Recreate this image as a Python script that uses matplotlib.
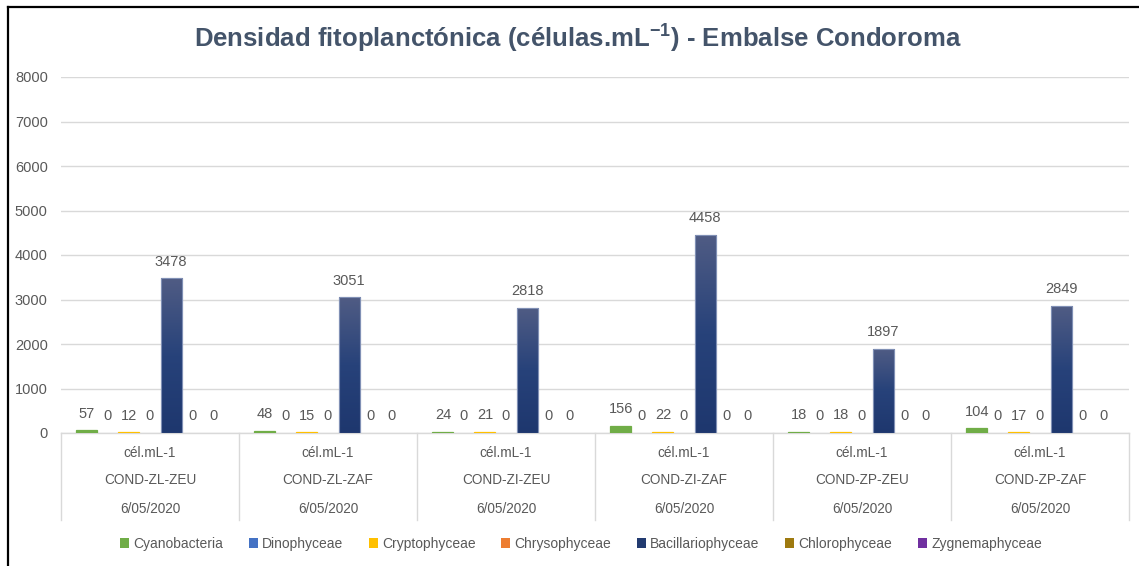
import matplotlib
matplotlib.use("Agg")
import matplotlib.pyplot as plt
import numpy as np
from matplotlib.lines import Line2D
from matplotlib.colors import LinearSegmentedColormap
import matplotlib.transforms as mtransforms

# ---------------- data ----------------
units = ["cél.mL-1"] * 6
stations = ["COND-ZL-ZEU", "COND-ZL-ZAF", "COND-ZI-ZEU", "COND-ZI-ZAF", "COND-ZP-ZEU", "COND-ZP-ZAF"]
dates = ["6/05/2020"] * 6
series_names = ["Cyanobacteria", "Dinophyceae", "Cryptophyceae", "Chrysophyceae",
                "Bacillariophyceae", "Chlorophyceae", "Zygnemaphyceae"]
cyanobacteria = [57, 48, 24, 156, 18, 104]
dinophyceae = [0, 0, 0, 0, 0, 0]
cryptophyceae = [12, 15, 21, 22, 18, 17]
chrysophyceae = [0, 0, 0, 0, 0, 0]
bacillariophyceae = [3478, 3051, 2818, 4458, 1897, 2849]
chlorophyceae = [0, 0, 0, 0, 0, 0]
zygnemaphyceae = [0, 0, 0, 0, 0, 0]
yticks = [0, 1000, 2000, 3000, 4000, 5000, 6000, 7000, 8000]
title = "Densidad fitoplanctónica (células.mL$^{-1}$) - Embalse Condoroma"

series_values = [cyanobacteria, dinophyceae, cryptophyceae, chrysophyceae,
                 bacillariophyceae, chlorophyceae, zygnemaphyceae]
colors = ["#70AD47", "#4472C4", "#FFC000", "#ED7D31", "#223B70", "#9E7A10", "#7030A0"]

plt.rcParams["mathtext.default"] = "regular"

NARROW = ["Liberation Sans Narrow", "Liberation Sans", "DejaVu Sans"]
REG = ["Liberation Sans", "DejaVu Sans"]
GRAY = "#595959"
GRID = "#D9D9D9"

W, H = 1139, 566
fig = plt.figure(figsize=(W / 100, H / 100), dpi=100)
fig.patch.set_facecolor("white")

left, right, bottom_px, top_px = 61, 1129, 433, 77
ax = fig.add_axes([left / W, (H - bottom_px) / H, (right - left) / W, (bottom_px - top_px) / H])
ax.set_facecolor("white")

n_groups = len(stations)
n_series = len(series_names)
x = np.arange(n_groups)
group_w = 0.826
bw = group_w / n_series

grad_cmap = LinearSegmentedColormap.from_list("g", ["#1E376E", "#27427A", "#505C84"])

for j, (name, vals, col) in enumerate(zip(series_names, series_values, colors)):
    pos = x + (j - (n_series - 1) / 2) * bw
    vals = np.array(vals, dtype=float)
    if name == "Bacillariophyceae":
        bars = ax.bar(pos, vals, width=bw, color=col, edgecolor="#8090B5",
                      linewidth=0.8, zorder=3, label=name)
        for b in bars:
            bx, by = b.get_x(), b.get_y()
            bwid, bh = b.get_width(), b.get_height()
            grad = np.linspace(0, 1, 256).reshape(-1, 1)
            im = ax.imshow(grad, cmap=grad_cmap, aspect="auto", origin="lower",
                           extent=[bx, bx + bwid, by, by + bh], zorder=3.5,
                           interpolation="bicubic")
            im.set_clip_path(b)
        ax.bar(pos, vals, width=bw, facecolor="none", edgecolor="#8090B5",
               linewidth=0.8, zorder=4)
    else:
        lws = [0.9 if v > 0 else 0 for v in vals]
        ax.bar(pos, vals, width=bw, color=col, edgecolor=col, linewidth=lws,
               zorder=3, label=name)
    for p, v in zip(pos, vals):
        ax.annotate(f"{int(v)}", (p, v), xytext=(0, 7), textcoords="offset points",
                    ha="center", va="bottom", fontsize=10.5, color=GRAY,
                    family=NARROW, zorder=5)

ax.set_xlim(-0.5, n_groups - 0.5)
ax.set_ylim(0, 8000)

ax.set_yticks(yticks)
ax.yaxis.grid(True, color=GRID, linewidth=1.0, zorder=0)
ax.set_axisbelow(True)
for s in ["left", "right", "top"]:
    ax.spines[s].set_visible(False)
ax.spines["bottom"].set_color(GRID)
ax.spines["bottom"].set_linewidth(1.0)
ax.tick_params(axis="y", length=0, pad=9.5, labelcolor=GRAY, labelsize=10.5)
for lab in ax.get_yticklabels():
    lab.set_family(NARROW)
ax.set_xticks([])

# multi-level category axis
trans = mtransforms.blended_transform_factory(ax.transData, ax.transAxes)
axis_h = bottom_px - top_px
sep_bottom = -(520 - bottom_px) / axis_h
for b in np.arange(-0.5, n_groups, 1.0):
    ax.add_line(Line2D([b, b], [0, sep_bottom], transform=trans, color=GRID,
                       linewidth=1.0, clip_on=False))
rows = [(units, 453), (stations, 480), (dates, 509)]
for labels, ypx in rows:
    yy = -(ypx - bottom_px) / axis_h
    for xi, lab in zip(x, labels):
        ax.text(xi, yy, lab, transform=trans, ha="center", va="center",
                fontsize=9.8, color=GRAY, family=NARROW, clip_on=False)

# title
fig.text(578 / W, 1 - 39 / H, title, ha="center", va="center", fontsize=18.5,
         fontweight="bold", color="#44546A", family=NARROW)

# legend
handles = [plt.Rectangle((0, 0), 1, 1, facecolor=c, edgecolor="none") for c in colors]
leg = fig.legend(handles, series_names, loc="center", bbox_to_anchor=(581 / W, 1 - 544 / H),
                 ncol=7, frameon=False, handlelength=0.65, handleheight=0.65,
                 handletextpad=0.3, columnspacing=1.85,
                 prop={"family": REG, "size": 10})
for t in leg.get_texts():
    t.set_color(GRAY)

# outer frame (top and left lines)
fig.add_artist(Line2D([7.5 / W, 1.0], [1 - 6.5 / H, 1 - 6.5 / H], transform=fig.transFigure,
                      color="black", linewidth=1.6))
fig.add_artist(Line2D([7.5 / W, 7.5 / W], [0, 1 - 6.5 / H], transform=fig.transFigure,
                      color="black", linewidth=1.6))

fig.savefig("out.png", dpi=100, facecolor="white")
